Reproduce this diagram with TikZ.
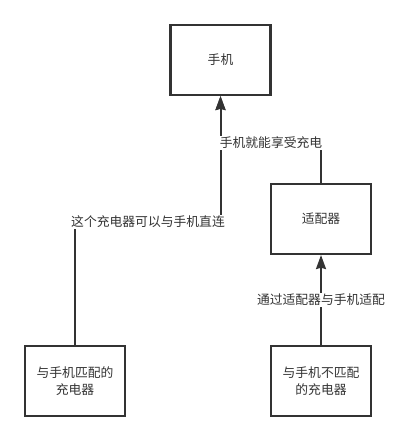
\documentclass[tikz,border=0pt]{standalone}
\usepackage{fontspec}
\newfontfamily\cjk{Noto Sans CJK SC}
\usepackage{xcolor}
\usetikzlibrary{arrows.meta, positioning, calc}
\definecolor{ink}{HTML}{333333}
\tikzset{
  box/.style={draw=ink, line width=1.6pt, align=center, minimum width=75pt, minimum height=52.5pt, inner sep=0pt},
  arrow/.style={-{Stealth[length=10.5pt, width=7.5pt, inset=1pt]}, line width=1.5pt, draw=ink},
  edgelabel/.style={fill=white, inner sep=1pt},
  every node/.style={font=\cjk\fontsize{9.6}{12.5}\selectfont, text=black!80}
}

\begin{document}
\begin{tikzpicture}[x=0.75pt, y=-0.75pt]
    \useasboundingbox (0,0) rectangle (401,441);
    \node[box] (phone) at (220.5,60) {手机};
    \node[box] (adapter) at (321,219) {适配器};
    \node[box] (matched) at (75,381) {与手机匹配的\\充电器};
    \node[box] (unmatched) at (321,381) {与手机不匹配\\的充电器};

    \coordinate (kneeL) at (148,222);
    \coordinate (kneeR) at (271,143);

    \draw[arrow] (matched.north) |- (kneeL) -| (phone.south);
    \draw[arrow] (adapter.north) |- (kneeR) -| (phone.south);
    \draw[arrow] (unmatched.north) -- (adapter.south);

    \node[edgelabel] at (kneeL) {这个充电器可以与手机直连};
    \node[edgelabel] at (kneeR) {手机就能享受充电};
    \node[edgelabel] at ($(unmatched.north)!0.5!(adapter.south)$) {通过适配器与手机适配};
\end{tikzpicture}
\end{document}
